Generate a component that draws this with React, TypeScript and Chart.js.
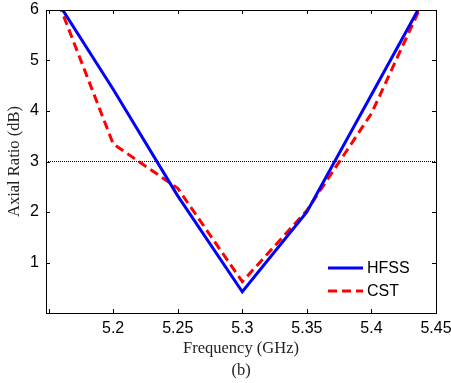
import React, { useEffect, useRef } from "react";
import { Chart, registerables } from "chart.js";

Chart.register(...registerables);

const freq = [5.15, 5.2, 5.25, 5.3, 5.35, 5.4, 5.45];
const hfss = [6.44, 4.43, 2.32, 0.42, 2.0, 4.32, 6.65];
const cst = [6.65, 3.35, 2.47, 0.62, 2.03, 3.95, 6.72];
const threshold = 3;
const xRange = [5.148, 5.45];
const yRange = [0, 6];
const xTicks = [5.15, 5.2, 5.25, 5.3, 5.35, 5.4, 5.45];
const xTickLabels = ["", "5.2", "5.25", "5.3", "5.35", "5.4", "5.45"];
const yTicks = [0, 1, 2, 3, 4, 5, 6];
const yTickLabels = ["", "1", "2", "3", "4", "5", "6"];

const boxPlugin = {
  id: "boxTicks",
  afterDatasetsDraw(chart: any) {
    const { ctx, chartArea } = chart;
    const { left, right, top, bottom } = chartArea;
    const xs = chart.scales.x;
    const ys = chart.scales.y;
    const len = 4;
    ctx.save();
    ctx.strokeStyle = "#000";
    ctx.lineWidth = 1;
    ctx.setLineDash([]);
    ctx.beginPath();
    xTicks.forEach((v) => {
      const px = Math.round(xs.getPixelForValue(v)) + 0.5;
      ctx.moveTo(px, bottom);
      ctx.lineTo(px, bottom - len);
      ctx.moveTo(px, top);
      ctx.lineTo(px, top + len);
    });
    yTicks.forEach((v) => {
      const py = Math.round(ys.getPixelForValue(v)) + 0.5;
      ctx.moveTo(left, py);
      ctx.lineTo(left + len, py);
      ctx.moveTo(right, py);
      ctx.lineTo(right - len, py);
    });
    ctx.stroke();
    ctx.strokeRect(left + 0.5, top + 0.5, right - left, bottom - top);

    // legend
    const items = chart.data.datasets.filter((d: any) => d.label);
    ctx.font = "16px 'Liberation Sans', Arial, sans-serif";
    ctx.textBaseline = "middle";
    ctx.textAlign = "left";
    const lx0 = right - 108;
    const lx1 = lx0 + 35;
    items.forEach((d: any, i: number) => {
      const y = bottom - 45 + i * 23;
      ctx.strokeStyle = d.borderColor;
      ctx.lineWidth = d.borderWidth;
      ctx.setLineDash(d.borderDash || []);
      ctx.beginPath();
      ctx.moveTo(lx0, y);
      ctx.lineTo(lx1, y);
      ctx.stroke();
      ctx.fillStyle = "#000";
      ctx.fillText(d.label, lx1 + 4, y + 1);
    });
    ctx.restore();
  },
};

export default function App() {
  const ref = useRef<HTMLCanvasElement>(null);
  useEffect(() => {
    document.body.style.margin = "0";
    const canvas = ref.current!;
    const chart = new Chart(canvas, {
      type: "line",
      data: {
        datasets: [
          {
            label: "",
            data: [
              { x: xRange[0], y: threshold },
              { x: xRange[1], y: threshold },
            ],
            borderColor: "#000",
            borderWidth: 1,
            borderDash: [1, 1],
            pointRadius: 0,
          },
          {
            label: "HFSS",
            data: freq.map((f, i) => ({ x: f, y: hfss[i] })),
            borderColor: "#0000ff",
            borderWidth: 3,
            pointRadius: 0,
            tension: 0,
            clip: 0,
          },
          {
            label: "CST",
            data: freq.map((f, i) => ({ x: f, y: cst[i] })),
            borderColor: "#ff0000",
            borderWidth: 3,
            borderDash: [9, 5],
            pointRadius: 0,
            tension: 0,
            clip: 0,
          },
        ],
      },
      options: {
        animation: false,
        responsive: false,
        maintainAspectRatio: false,
        layout: { padding: { top: 10, right: 15, left: 0, bottom: 0 } },
        plugins: { legend: { display: false }, tooltip: { enabled: false } },
        scales: {
          x: {
            type: "linear",
            min: xRange[0],
            max: xRange[1],
            grid: { display: false, drawTicks: false },
            border: { display: false },
            afterFit: (s: any) => {
              s.height = 70;
              s.paddingLeft = 0;
              s.paddingRight = 0;
            },
            afterBuildTicks: (s: any) => {
              s.ticks = xTicks.map((v) => ({ value: v }));
            },
            ticks: {
              autoSkip: false,
              maxRotation: 0,
              padding: 6,
              color: "#000",
              font: { family: "'Liberation Sans', Arial, sans-serif", size: 16 },
              callback: (v: any) => {
                const i = xTicks.findIndex((t) => Math.abs(t - Number(v)) < 1e-6);
                return i >= 0 ? xTickLabels[i] : "";
              },
            },
            title: {
              display: true,
              text: ["Frequency (GHz)", "(b)"],
              color: "#222",
              padding: { top: 0, bottom: 1 },
              font: { family: "'Liberation Serif', 'Times New Roman', serif", size: 16.5, lineHeight: 1.333 },
            },
          },
          y: {
            type: "linear",
            min: yRange[0],
            max: yRange[1],
            grid: { display: false, drawTicks: false },
            border: { display: false },
            afterFit: (s: any) => {
              s.width = 46;
              s.paddingTop = 0;
              s.paddingBottom = 0;
            },
            afterBuildTicks: (s: any) => {
              s.ticks = yTicks.map((v) => ({ value: v }));
            },
            ticks: {
              autoSkip: false,
              padding: 7,
              color: "#000",
              font: { family: "'Liberation Sans', Arial, sans-serif", size: 16 },
              callback: (v: any) => {
                const i = yTicks.findIndex((t) => Math.abs(t - Number(v)) < 1e-6);
                return i >= 0 ? yTickLabels[i] : "";
              },
            },
            title: {
              display: true,
              text: "Axial Ratio (dB)",
              color: "#222",
              padding: { top: 5, bottom: 0 },
              font: { family: "'Liberation Serif', 'Times New Roman', serif", size: 16.5, lineHeight: 1.2 },
            },
          },
        },
      },
      plugins: [boxPlugin],
    } as any);
    return () => chart.destroy();
  }, []);
  return (
    <div style={{ width: 451, height: 383 }}>
      <canvas ref={ref} width={451} height={383} style={{ display: "block" }} />
    </div>
  );
}
